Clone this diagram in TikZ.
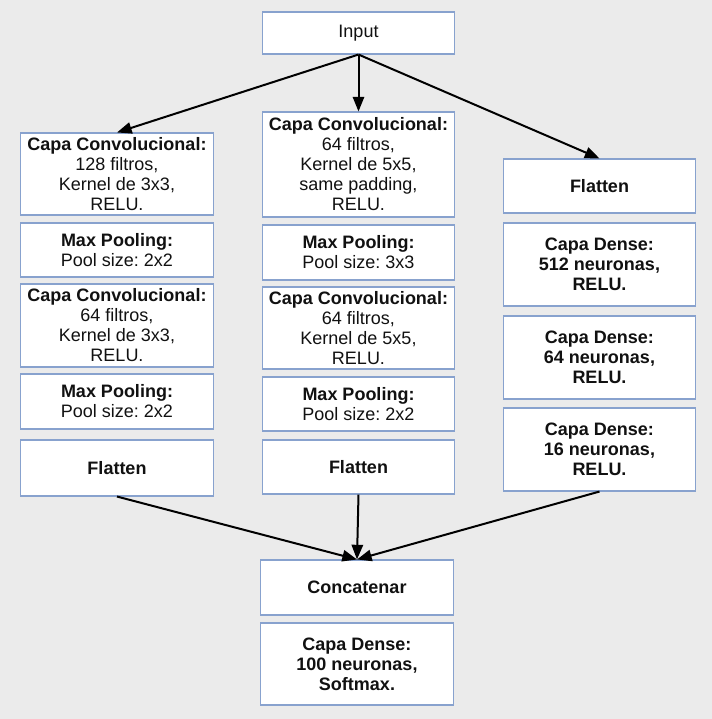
\documentclass[tikz,border=0pt]{standalone}
\usepackage{fontspec}
\setmainfont{Liberation Sans}
\usetikzlibrary{arrows.meta}
\definecolor{bgc}{HTML}{EBEBEB}
\definecolor{bdc}{HTML}{88A2CE}
\definecolor{txc}{HTML}{111111}
\frenchspacing
\begin{document}
\begin{tikzpicture}[x=0.75pt,y=-0.75pt,
  box/.style={draw=bdc,line width=0.8pt,fill=white,inner sep=0pt,align=center,
    text=txc,font=\fontsize{13.5}{15}\selectfont,minimum width=144.5pt},
  boldbox/.style={box,font=\fontsize{13.5}{15}\selectfont\bfseries},
  conn/.style={line width=1.5pt,draw=black,-{Triangle[length=11pt,width=8.5pt]}}]
\fill[bgc] (0,0) rectangle (712,719);
\useasboundingbox (0,0) rectangle (712,719);
% top
\node[box,minimum height=31.5pt] (in) at (358.5,33) {Input};
% left column
\node[box,minimum height=61.5pt] (l1) at (117,174) {\textbf{Capa Convolucional:}\\128 filtros,\\Kernel de 3x3,\\RELU.};
\node[box,minimum height=40.5pt] (l2) at (117,250) {\textbf{Max Pooling:}\\Pool size: 2x2};
\node[box,minimum height=62.25pt] (l3) at (117,325.5) {\textbf{Capa Convolucional:}\\64 filtros,\\Kernel de 3x3,\\RELU.};
\node[box,minimum height=41.25pt] (l4) at (117,401.5) {\textbf{Max Pooling:}\\Pool size: 2x2};
\node[boldbox,minimum height=42pt] (l5) at (117,468) {Flatten};
% middle column
\node[box,minimum height=78.75pt] (m1) at (358.5,164.5) {\textbf{Capa Convolucional:}\\64 filtros,\\Kernel de 5x5,\\same padding,\\RELU.};
\node[box,minimum height=41.25pt] (m2) at (358.5,252.5) {\textbf{Max Pooling:}\\Pool size: 3x3};
\node[box,minimum height=61.5pt] (m3) at (358.5,328) {\textbf{Capa Convolucional:}\\64 filtros,\\Kernel de 5x5,\\RELU.};
\node[box,minimum height=40.5pt] (m4) at (358.5,404) {\textbf{Max Pooling:}\\Pool size: 2x2};
\node[boldbox,minimum height=40.5pt] (m5) at (358.5,467) {Flatten};
% right column
\node[boldbox,minimum height=40.5pt] (r1) at (599.5,186) {Flatten};
\node[boldbox,minimum height=62.25pt] (r2) at (599.5,264.5) {Capa Dense:\\512 neuronas,\\RELU.};
\node[boldbox,minimum height=62.25pt] (r3) at (599.5,357.5) {Capa Dense:\\64 neuronas,\\RELU.};
\node[boldbox,minimum height=62.25pt] (r4) at (599.5,449.5) {Capa Dense:\\16 neuronas,\\RELU.};
% bottom
\node[boldbox,minimum height=41.25pt] (c1) at (357,587.5) {Concatenar};
\node[boldbox,minimum height=61.5pt] (c2) at (357,664) {Capa Dense:\\100 neuronas,\\Softmax.};
% connectors
\draw[conn] (in.south) -- (l1.north);
\draw[conn] (in.south) -- (m1.north);
\draw[conn] (in.south) -- (r1.north);
\draw[conn] (l5.south) -- (c1.north);
\draw[conn] (m5.south) -- (c1.north);
\draw[conn] (r4.south) -- (c1.north);
\end{tikzpicture}
\end{document}
